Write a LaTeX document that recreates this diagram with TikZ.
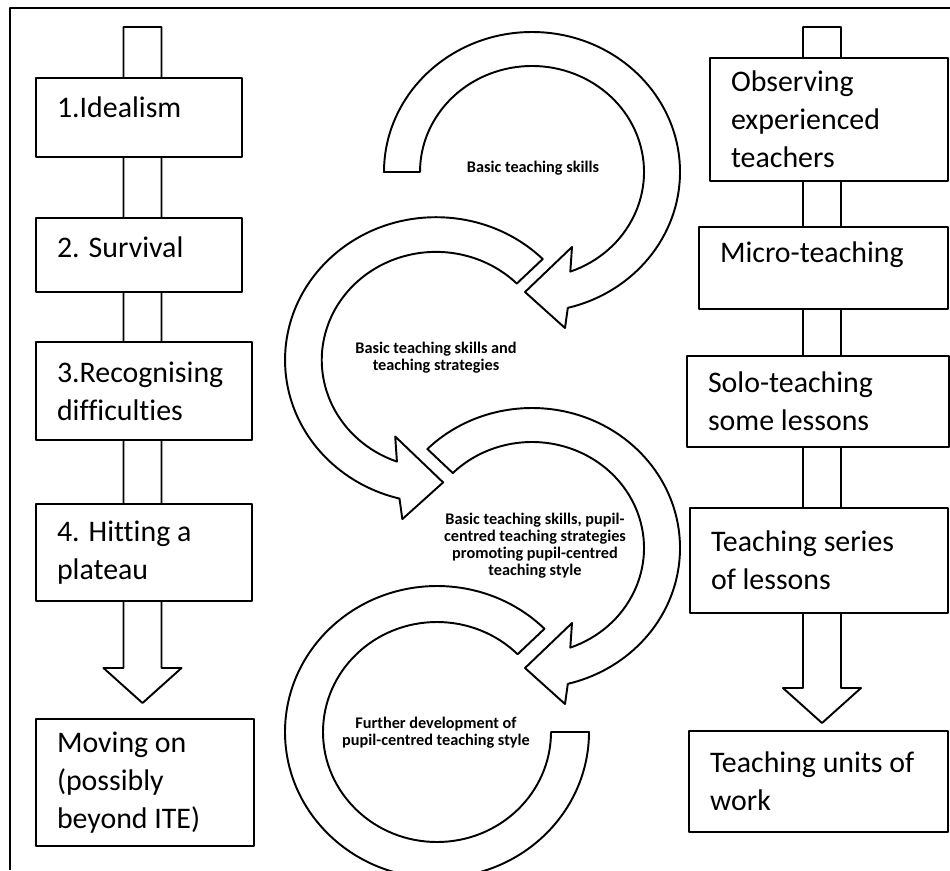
\documentclass[tikz,border=0pt]{standalone}
\usepackage{fontspec}
\setmainfont{Carlito}[Ligatures=NoCommon]
\usetikzlibrary{calc}

\newcommand\boxfont{\fontsize{17}{21.5}\selectfont}
\newcommand\curlfont{\bfseries\fontsize{9.25}{9.6}\selectfont}

% curved band with a head at the lower end, drawn about (0,0)
\newcommand\curlarrow[1]{%
  \draw[curl] (#1:148 and 140) arc[start angle=#1, end angle=-76, x radius=148, y radius=140]
    -- (33,-156) -- (-7,-120) -- (40,-75) -- (-70:112 and 106)
    arc[start angle=-70, end angle=#1, x radius=112, y radius=106] -- cycle;}

% straight wide arrow from #1 to the tip #2
\newcommand\blockarrow[2]{%
  \draw[shaft] ($(#1)+(-19,0)$) -- ($(#2)+(-19,-35)$) -- ($(#2)+(-39,-35)$) -- (#2)
    -- ($(#2)+(39,-35)$) -- ($(#2)+(19,-35)$) -- ($(#1)+(19,0)$) -- cycle;}

\begin{document}
\begin{tikzpicture}[x=0.02cm, y=-0.02cm, line join=round,
  box/.style={draw, line width=1.1pt, fill=white, align=flush left, inner xsep=0.42cm, font=\boxfont},
  curl/.style={draw, line width=1.1pt, fill=white},
  shaft/.style={draw, line width=1.1pt, fill=white},
  curltext/.style={align=center, font=\curlfont, inner sep=0pt}]
\useasboundingbox (0,0) rectangle (950,870);
\draw[line width=0.8pt] (10,870) -- (10,8) -- (950,8);

% stages
\coordinate (ltop) at (142.5,27);
\coordinate (ltip) at (142.5,703);
\blockarrow{ltop}{ltip}
\node[box, text width=3.28cm, minimum height=1.58cm, text depth=12pt] (idealism) at (139,117.5) {1.Idealism};
\node[box, text width=3.28cm, minimum height=1.48cm, text depth=9pt] (survival) at (139,255) {2. Survival};
\node[box, text width=3.48cm, minimum height=1.96cm] (recognising) at (144,391) {3.Recognising\\difficulties};
\node[box, text width=3.48cm, minimum height=1.94cm] (plateau) at (144,552.5) {4. Hitting a\\plateau};
\node[box, text width=3.52cm, minimum height=2.54cm] (movingon) at (145,782.5) {Moving on\\(possibly\\beyond ITE)};

% curls
\begin{scope}[shift={(532,172)}, yscale=-1]
  \curlarrow{180}
\end{scope}
\begin{scope}[shift={(436,360)}, xscale=-1.02, yscale=-1.02]
  \curlarrow{135}
\end{scope}
\begin{scope}[shift={(532,548)}, yscale=-1]
  \curlarrow{135}
\end{scope}
\begin{scope}[shift={(437,732)}, yscale=-1]
  \draw[curl] (45:152 and 146) arc[start angle=45, end angle=360, x radius=152, y radius=146]
    -- (0:114 and 110) arc[start angle=360, end angle=45, x radius=114, y radius=110] -- cycle;
\end{scope}
\node[curltext] (skills) at (533,168) {Basic teaching skills};
\node[curltext] (strategies) at (436,357.5) {Basic teaching skills and\\teaching strategies};
\node[curltext] (pupilcentred) at (535,545.5) {Basic teaching skills, pupil-\\centred teaching strategies\\promoting pupil-centred\\teaching style};
\node[curltext] (further) at (436,733) {Further development of\\pupil-centred teaching style};

% practice
\coordinate (rtop) at (822,27);
\coordinate (rtip) at (822,723);
\blockarrow{rtop}{rtip}
\node[box, text width=3.92cm, minimum height=2.46cm] (observing) at (829,119.5) {Observing\\experienced\\teachers};
\node[box, text width=4.14cm, minimum height=1.64cm, text depth=18pt] (micro) at (823.5,268) {Micro-teaching};
\node[box, text width=4.4cm, minimum height=1.82cm] (solo) at (818,401.5) {Solo-teaching\\some lessons};
\node[box, text width=4.32cm, minimum height=2.1cm] (series) at (819,560.5) {Teaching series\\of lessons};
\node[box, text width=4.34cm, minimum height=2.02cm] (units) at (818.5,781.5) {Teaching units of\\work};
\end{tikzpicture}
\end{document}
